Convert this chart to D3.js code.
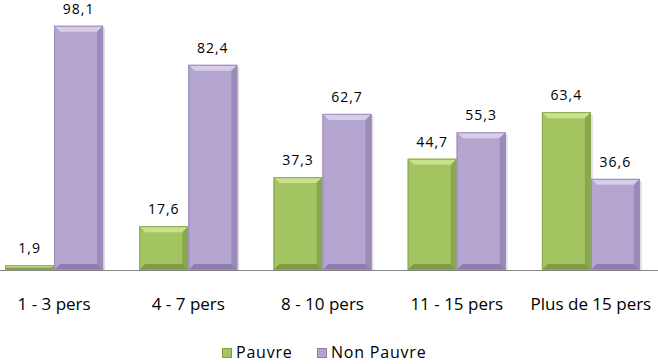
<!DOCTYPE html>
<html>
<head>
<meta charset="utf-8">
<script src="https://cdn.jsdelivr.net/npm/d3@7"></script>
<style>
  body { margin: 0; background: #fff; }
  text { font-family: "Open Sans", "Noto Sans", sans-serif; fill: #000; }
</style>
</head>
<body>
<svg id="chart" width="658" height="364"></svg>
<script>
var categories = ['1 - 3 pers', '4 - 7 pers', '8 - 10 pers', '11 - 15 pers', 'Plus de 15 pers'];
var pauvre = [1.9, 17.6, 37.3, 44.7, 63.4];
var nonPauvre = [98.1, 82.4, 62.7, 55.3, 36.6];
var seriesNames = ['Pauvre', 'Non Pauvre'];

var colours = {
  'Pauvre': {base: '#a4c462', light: '#c9e08e', dark: '#7f9c42', edge: '#8aa94c'},
  'Non Pauvre': {base: '#b4a5d0', light: '#d8cde8', dark: '#8e7daf', edge: '#9a8bbb'}
};

var svg = d3.select('#chart');
var baseY = 270;

var x0 = d3.scaleBand().domain(categories).range([-13, 658]).paddingInner(0.27).paddingOuter(0.135);
var x1 = d3.scaleBand().domain(seriesNames).range([0, x0.bandwidth()]);
var y = d3.scaleLinear().domain([0, 100]).range([baseY, baseY - 249]);

var rows = [];
categories.forEach(function(c, i) {
  rows.push({cat: c, series: 'Pauvre', value: pauvre[i]});
  rows.push({cat: c, series: 'Non Pauvre', value: nonPauvre[i]});
});

// bevelled bars
var bars = svg.append('g').selectAll('g.bar').data(rows).enter().append('g')
  .attr('class', 'bar')
  .attr('transform', function(d) { return 'translate(' + (x0(d.cat) + x1(d.series)) + ',0)'; });

bars.each(function(d) {
  var g = d3.select(this), w = x1.bandwidth(), top = y(d.value), h = baseY - top;
  var c = colours[d.series];
  var b = Math.min(6, h / 2, w / 2);
  // shadow
  g.append('rect').attr('x', 2).attr('y', top + 2).attr('width', w).attr('height', h - 2)
    .attr('fill', '#000').attr('opacity', 0.12);
  g.append('rect').attr('x', 0).attr('y', top).attr('width', w).attr('height', h)
    .attr('fill', c.base);
  // top bevel
  g.append('polygon').attr('fill', c.light)
    .attr('points', [[0, top], [w, top], [w - b, top + b], [b, top + b]].join(' '));
  // left bevel
  g.append('polygon').attr('fill', c.base).attr('opacity', 0.9)
    .attr('points', [[0, top], [b, top + b], [b, baseY - b], [0, baseY]].join(' '));
  // right bevel
  g.append('polygon').attr('fill', c.dark).attr('opacity', 0.7)
    .attr('points', [[w, top], [w - b, top + b], [w - b, baseY - b], [w, baseY]].join(' '));
  // bottom bevel
  g.append('polygon').attr('fill', c.dark)
    .attr('points', [[0, baseY], [b, baseY - b], [w - b, baseY - b], [w, baseY]].join(' '));
  g.append('rect').attr('x', 0.5).attr('y', top + 0.5).attr('width', w - 1).attr('height', Math.max(0, h - 1))
    .attr('fill', 'none').attr('stroke', c.edge).attr('stroke-width', 1);
});

bars.append('text')
  .attr('x', x1.bandwidth() / 2)
  .attr('y', function(d) { return y(d.value) - 12; })
  .attr('text-anchor', 'middle')
  .style('font-size', '14px').style('letter-spacing', '1px')
  .text(function(d) { return String(d.value).replace('.', ','); });

// axis line
svg.append('line').attr('x1', 0).attr('x2', 658).attr('y1', baseY + 0.5).attr('y2', baseY + 0.5)
  .attr('stroke', '#868686').attr('stroke-width', 1);

svg.append('g').selectAll('text').data(categories).enter().append('text')
  .attr('x', function(c) { return x0(c) + x0.bandwidth() / 2; })
  .attr('y', 310)
  .attr('text-anchor', 'middle')
  .style('font-size', '17px')
  .text(function(c) { return c; });

// legend
var legend = svg.append('g').attr('transform', 'translate(0,358)');
var legX = [222, 317];
seriesNames.forEach(function(s, i) {
  var c = colours[s];
  legend.append('rect').attr('x', legX[i] + 0.5).attr('y', -9.5).attr('width', 9).attr('height', 9)
    .attr('fill', c.base).attr('stroke', c.dark).attr('stroke-width', 1);
  legend.append('text').attr('x', legX[i] + 14).attr('y', 0)
    .style('font-size', '16px').style('letter-spacing', '0.8px').text(s);
});
</script>
</body>
</html>
